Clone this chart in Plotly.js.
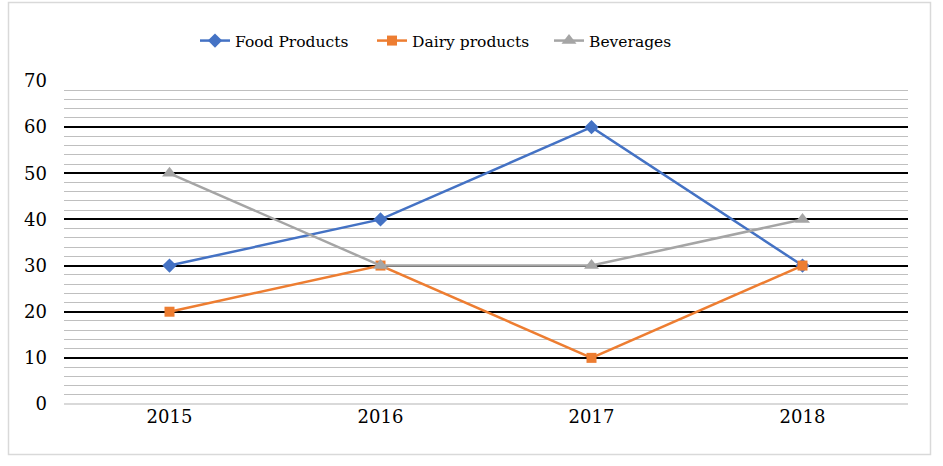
<!DOCTYPE html>
<html><head><meta charset="utf-8">
<script src="https://cdn.plot.ly/plotly-3.0.1.min.js"></script>
<style>html,body{margin:0;padding:0;background:#fff}#chart{width:943px;height:466px}</style>
</head><body><div id="chart"></div>
<script>
const years = ['2015', '2016', '2017', '2018'];
const foodProducts = [30, 40, 60, 30];
const dairyProducts = [20, 30, 10, 30];
const beverages = [50, 30, 30, 40];
const seriesNames = ['Food Products', 'Dairy products', 'Beverages'];

const fontFam = 'DejaVu Serif, serif';
const traces = [
  {x: years, y: foodProducts, name: seriesNames[0], type: 'scatter', mode: 'lines+markers',
   line: {color: '#4472C4', width: 2.5}, marker: {symbol: 'diamond', size: 11, color: '#4472C4'}},
  {x: years, y: dairyProducts, name: seriesNames[1], type: 'scatter', mode: 'lines+markers',
   line: {color: '#ED7D31', width: 2.5}, marker: {symbol: 'square', size: 10, color: '#ED7D31'}},
  {x: years, y: beverages, name: seriesNames[2], type: 'scatter', mode: 'lines+markers',
   line: {color: '#A5A5A5', width: 2.5}, marker: {symbol: 'triangle-up', size: 13, color: '#A5A5A5'}}
];
const W = 943, H = 466, ml = 64, mr = 35, mt = 81, mb = 62;
const pw = W - ml - mr, ph = H - mt - mb;
const layout = {
  width: W, height: H,
  margin: {l: ml, r: mr, t: mt, b: mb},
  paper_bgcolor: '#fff', plot_bgcolor: '#fff',
  font: {family: fontFam, size: 18, color: '#000'},
  showlegend: true,
  legend: {orientation: 'h', x: (196 - 1 - ml) / pw, xanchor: 'left', y: 1 + (81 - 41) / ph, yanchor: 'middle',
           entrywidth: 132, entrywidthmode: 'pixels',
           font: {family: fontFam, size: 15.5, color: '#000'}, itemclick: false},
  xaxis: {type: 'category', range: [-0.5, 3.5], showgrid: false, zeroline: false, showline: false,
          ticks: '', tickfont: {family: fontFam, size: 18}, fixedrange: true},
  yaxis: {range: [0, 70], dtick: 10, tick0: 0, showgrid: true, gridcolor: '#000', gridwidth: 2,
          zeroline: true, zerolinecolor: '#d9d9d9', zerolinewidth: 2, showline: false, ticks: '',
          ticklabelstandoff: 16,
          minor: {dtick: 2, tick0: 0, showgrid: true, gridcolor: '#bfbfbf', gridwidth: 1},
          tickfont: {family: fontFam, size: 18}, fixedrange: true},
  shapes: [{type: 'rect', xref: 'paper', yref: 'paper',
            x0: (8.5 - ml) / pw, x1: (930.5 - ml) / pw,
            y0: (H - mb - 454.5) / ph, y1: (H - mb - 2.5) / ph,
            line: {color: '#d9d9d9', width: 1.5}, fillcolor: 'rgba(0,0,0,0)', layer: 'below'}]
};
Plotly.newPlot('chart', traces, layout, {displayModeBar: false, staticPlot: true});
</script></body></html>
